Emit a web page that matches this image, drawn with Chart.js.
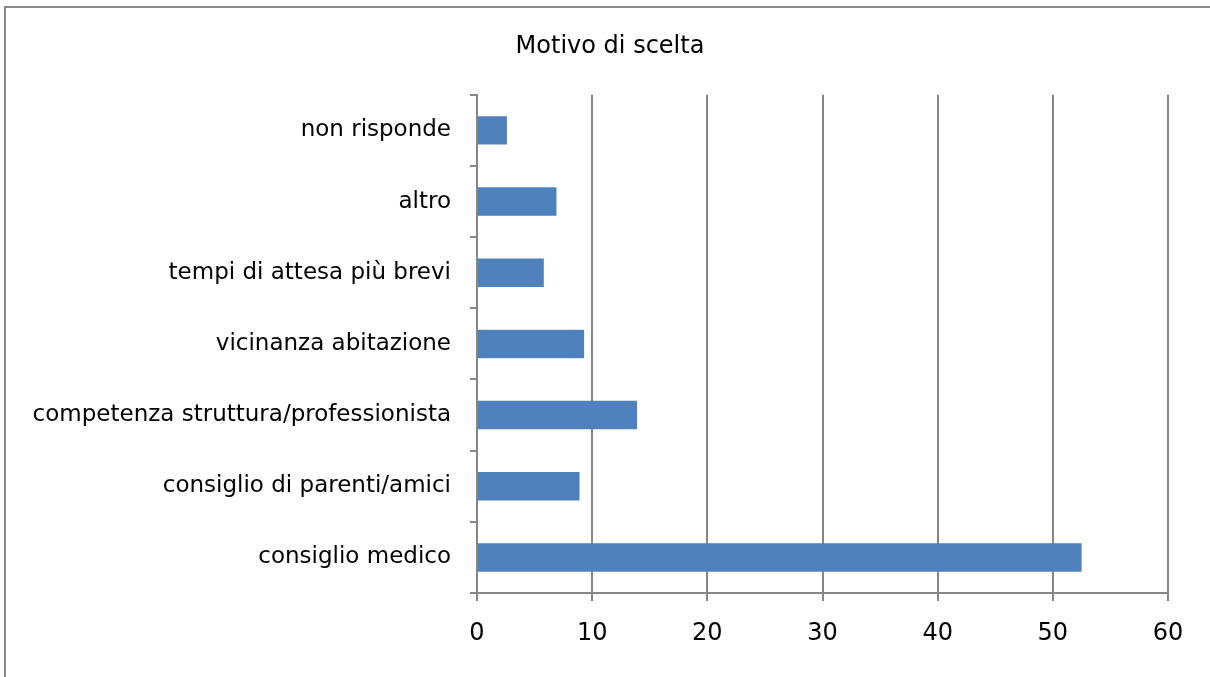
<!DOCTYPE html>
<html>
<head>
<meta charset="utf-8">
<script src="https://cdn.jsdelivr.net/npm/chart.js@4/dist/chart.umd.min.js"></script>
<style>
    body { margin: 0; background: #fff; }
    #cornice { position: absolute; left: 4px; top: 6px; width: 1220px; height: 690px; border: 2px solid #8a8a8a; }
    #grafico { position: absolute; left: 0; top: 0; }
</style>
</head>
<body>
<div id="cornice"></div>
<canvas id="grafico" width="1210" height="677"></canvas>
<script>
const categorie = ['non risponde', 'altro', 'tempi di attesa più brevi', 'vicinanza abitazione',
    'competenza struttura/professionista', 'consiglio di parenti/amici', 'consiglio medico'];
const valori = [2.6, 6.9, 5.8, 9.3, 13.9, 8.9, 52.5];
const tickX = [0, 10, 20, 30, 40, 50, 60];

const grigio = '#868686';
const font = "'DejaVu Sans', sans-serif";

// il titolo va centrato su tutta la cornice, non solo fino al bordo destro del grafico
const centraTitolo = {
    id: 'centraTitolo',
    afterLayout(chart) {
        chart.titleBlock.left = 0;
        chart.titleBlock.right = 1220;
    }
};

const ctx = document.getElementById('grafico').getContext('2d');
new Chart(ctx, {
    type: 'bar',
    data: {
        labels: categorie,
        datasets: [{
            data: valori,
            backgroundColor: '#4f81bd',
            barPercentage: 0.8,
            categoryPercentage: 0.5
        }]
    },
    options: {
        indexAxis: 'y',
        responsive: false,
        animation: false,
        layout: { padding: { left: 0, right: 42, top: 0, bottom: 0 } },
        plugins: {
            legend: { display: false },
            tooltip: { enabled: false },
            title: {
                display: true,
                text: 'Motivo di scelta',
                color: '#000',
                font: { family: font, size: 24, weight: 'normal' },
                padding: { top: 32, bottom: 34 }
            }
        },
        scales: {
            x: {
                min: 0,
                max: 60,
                afterBuildTicks: (scale) => { scale.ticks = tickX.map(v => ({ value: v })); },
                afterFit: (scale) => { scale.height = 84; },
                grid: { color: grigio, lineWidth: 2, tickLength: 8 },
                border: { color: grigio, width: 2 },
                ticks: { color: '#000', padding: 18, font: { family: font, size: 24 } }
            },
            y: {
                afterFit: (scale) => { scale.width = 477; },
                grid: { drawOnChartArea: false, color: grigio, lineWidth: 2, tickLength: 7, offset: true },
                border: { color: grigio, width: 2 },
                ticks: { color: '#000', padding: 19, font: { family: font, size: 23 } }
            }
        }
    },
    plugins: [centraTitolo]
});
</script>
</body>
</html>
